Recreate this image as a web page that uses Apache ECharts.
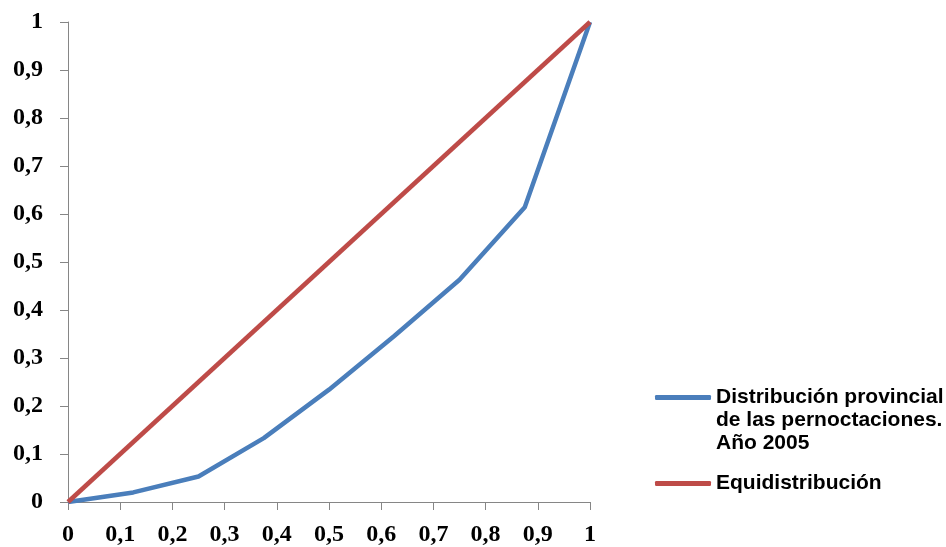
<!DOCTYPE html>
<html><head><meta charset="utf-8">
<script src="https://cdn.jsdelivr.net/npm/echarts@6/dist/echarts.min.js"></script>
<style>html,body{margin:0;padding:0;background:#fff}#c{width:946px;height:547px}</style>
</head><body><div id="c"></div>
<script>
const xShare = [0, 0.125, 0.25, 0.375, 0.5, 0.625, 0.75, 0.875, 1];
const provincial = [0, 0.020, 0.053, 0.133, 0.234, 0.346, 0.463, 0.614, 1];
const equi = [0, 1];
const equiX = [0, 1];
const seriesNames = ['Distribución provincial\nde las pernoctaciones.\nAño 2005', 'Equidistribución'];

const fmt = v => String(Math.round(v * 10) / 10).replace('.', ',');
const chart = echarts.init(document.getElementById('c'));
const axisCommon = {
  type: 'value', min: 0, max: 1, interval: 0.1,
  axisLine: { show: true, lineStyle: { color: '#868686', width: 1 } },
  axisTick: { show: true, length: 8, lineStyle: { color: '#868686' } },
  splitLine: { show: false },
};
const labelFont = { fontFamily: 'Liberation Serif', fontWeight: 'bold', fontSize: 24, color: '#000' };
chart.setOption({
  animation: false,
  grid: { left: 68, top: 22, width: 522, height: 482 },
  xAxis: Object.assign({}, axisCommon, {
    axisLabel: Object.assign({ formatter: fmt, margin: 21 }, labelFont)
  }),
  yAxis: Object.assign({}, axisCommon, {
    axisLabel: Object.assign({ formatter: fmt, margin: 25 }, labelFont)
  }),
  legend: [{
    data: [seriesNames[0]], orient: 'vertical', left: 650, top: 335,
    icon: 'roundRect', itemWidth: 56, itemHeight: 5,
    formatter: n => ' \n \n' + n,
    textStyle: { fontFamily: 'Liberation Sans', fontWeight: 'bold', fontSize: 21, color: '#000', lineHeight: 23 }
  }, {
    data: [seriesNames[1]], orient: 'vertical', left: 650, top: 467,
    icon: 'roundRect', itemWidth: 56, itemHeight: 5,
    textStyle: { fontFamily: 'Liberation Sans', fontWeight: 'bold', fontSize: 21, color: '#000', lineHeight: 23 }
  }],
  series: [{
    name: seriesNames[0], type: 'line', showSymbol: false, symbol: 'none',
    data: xShare.map((x, i) => [x, provincial[i]]),
    lineStyle: { color: '#4A7EBB', width: 4.5 }, itemStyle: { color: '#4A7EBB' }
  }, {
    name: seriesNames[1], type: 'line', showSymbol: false, symbol: 'none',
    data: equiX.map((x, i) => [x, equi[i]]),
    lineStyle: { color: '#BE4B48', width: 4.5 }, itemStyle: { color: '#BE4B48' }
  }]
});
</script></body></html>
